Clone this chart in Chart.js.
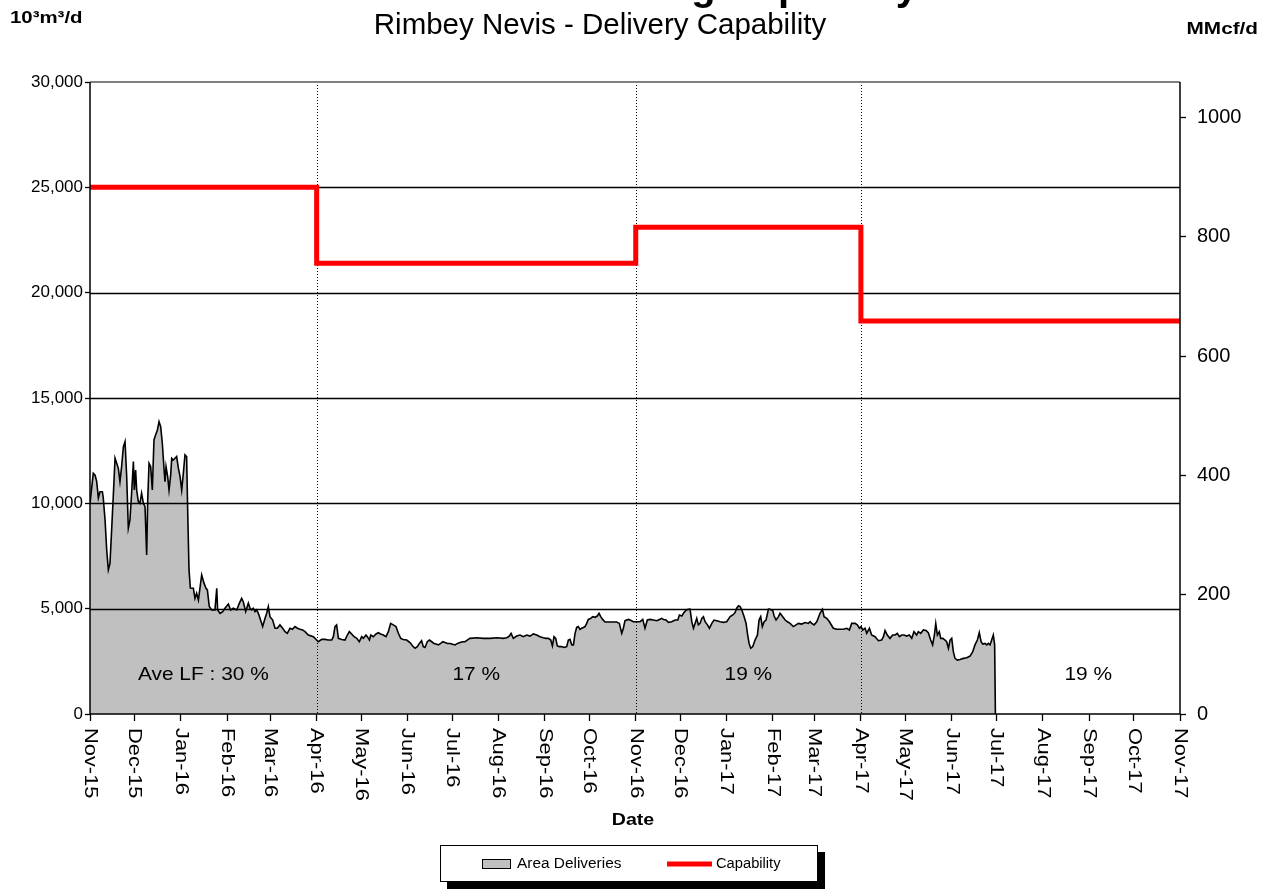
<!DOCTYPE html>
<html>
<head>
<meta charset="utf-8">
<title>Rimbey Nevis - Delivery Capability</title>
<script src="https://cdn.jsdelivr.net/npm/chart.js@4.4.1/dist/chart.umd.min.js"></script>
<style>
  html, body { margin: 0; padding: 0; background: #fff; }
  #wrap { width: 1273px; height: 889px; position: relative; }
</style>
</head>
<body>
<div id="wrap"><canvas id="chart" width="1273" height="889"></canvas></div>
<script>
// ====== DATA ======
const START = Date.UTC(2015, 10, 1);           // day 0 = 1-Nov-15
const MMCF_PER_E3M3 = 0.0353147;               // 10³m³/d -> MMcf/d

const monthLabels = ['Nov-15','Dec-15','Jan-16','Feb-16','Mar-16','Apr-16','May-16','Jun-16',
  'Jul-16','Aug-16','Sep-16','Oct-16','Nov-16','Dec-16','Jan-17','Feb-17','Mar-17','Apr-17',
  'May-17','Jun-17','Jul-17','Aug-17','Sep-17','Oct-17','Nov-17'];

// Capability (10³m³/d), stepped
const capDates  = ['2015-11-01','2016-04-01','2016-11-01','2017-04-01','2017-11-01'];
const capValues = [25000, 21400, 23100, 18650, 18650];

// Area deliveries: day since 1-Nov-15, 10³m³/d
const delDay = [0,2.2,3.4,4.5,5.6,6.7,8.3,8.9,10.1,11.2,12.3,13.4,14.5,15.6,16.8,17.9,19.0,20.1,21.2,22.4,
  23.5,24.6,25.7,26.8,27.9,29.1,29.7,30.6,31.3,32.4,33.5,34.6,35.8,36.9,38.0,38.7,39.6,40.7,41.8,42.9,
  44.0,45.2,46.3,47.4,48.5,49.6,50.3,51.0,52.1,53.0,54.1,54.8,55.9,57.0,58.1,59.3,60.4,61.5,62.6,63.7,
  64.8,65.5,66.4,67.3,69.3,70.4,71.5,72.7,74.9,76.5,77.8,78.7,80.0,81.6,83.8,85.0,85.6,87.2,89.0,90.5,
  92.8,94.3,96.1,98.4,100.2,101.7,102.8,104.4,106.2,107.3,108.4,109.5,110.7,111.8,112.9,114.0,115.8,117.4,118.5,119.6,
  120.7,122.5,124.1,125.6,127.4,129.2,130.8,132.3,134.1,135.7,137.5,139.1,140.8,142.6,144.2,146.4,149.8,152.0,153.1,155.4,
  157.6,159.8,162.1,163.2,164.3,165.4,166.6,168.8,171.0,172.6,173.9,175.5,177.1,178.9,180.6,182.2,183.3,185.1,186.0,187.4,
  188.3,190.0,191.8,193.4,194.9,196.7,198.5,200.1,201.6,203.4,205.2,206.8,208.4,210.1,212.4,214.6,216.4,218.0,219.5,220.9,
  222.4,223.5,224.7,226.2,227.6,229.2,230.7,232.1,233.6,235.2,236.6,238.1,239.7,241.5,243.2,244.8,246.4,248.2,249.9,251.5,
  253.0,254.8,259.3,263.8,268.3,272.8,277.2,279.5,281.2,282.4,283.9,286.2,288.4,290.6,292.9,295.1,297.3,299.6,301.8,304.0,
  305.8,307.4,309.0,310.1,311.2,312.3,313.4,314.8,316.3,317.9,319.7,320.8,321.9,323.1,324.2,325.3,326.4,327.5,328.6,329.7,
  330.9,332.0,333.1,334.2,335.8,337.1,338.7,340.2,341.4,342.5,343.8,345.4,348.7,353.2,355.0,356.6,357.7,358.8,361.1,362.2,
  364.4,366.7,368.9,370.7,372.2,373.8,375.6,377.8,380.1,381.9,383.4,384.6,386.3,387.9,390.1,392.4,394.2,395.3,396.9,398.0,
  399.8,401.3,402.4,403.6,404.7,405.8,406.9,408.0,409.1,410.3,411.4,412.5,414.1,415.4,417.0,418.5,420.3,422.6,424.8,427.0,
  429.3,431.1,432.6,433.7,434.9,436.0,437.1,438.7,440.0,440.9,442.0,443.1,444.5,446.0,447.6,448.7,449.8,450.9,452.1,453.4,
  455.0,456.1,457.9,458.8,460.1,461.7,462.8,464.6,466.2,467.7,469.5,471.7,473.5,475.1,477.3,479.6,481.8,482.9,484.0,485.6,
  487.4,489.6,491.2,492.3,494.1,495.9,498.5,500.8,503.0,505.2,507.5,509.3,510.8,513.1,514.6,516.0,517.1,518.2,519.8,520.9,
  522.7,524.2,526.5,528.7,530.9,532.1,533.2,534.7,536.5,538.3,539.9,541.4,542.8,544.4,545.9,547.7,549.5,551.1,552.6,554.4,
  555.5,557.1,558.9,560.7,562.2,563.8,565.1,566.3,567.2,568.3,569.6,570.5,571.9,573.4,574.5,575.7,576.8,577.9,579.0,580.1,
  581.7,583.5,585.7,588.0,590.2,592.0,593.5,595.1,596.4,597.6,598.7,600.2,601.4,602.5,603.6,604.7,605.8,606.7,607.2];
const delVal = [10000,11430,11340,11030,10250,10550,10550,10250,9210,7790,6840,7150,8730,10320,12140,11900,11660,11030,11740,12690,
  12930,11270,8820,9210,10480,11980,10630,11580,10630,10080,10000,10480,10000,9840,7550,10160,11900,11740,10630,13010,
  13240,13480,13880,13640,12850,11680,11030,11740,11270,10630,11340,12140,12060,12140,12220,11660,11270,10630,11430,12300,
  12220,9690,6840,5980,5970,5490,5730,5410,6600,6200,5970,5890,5100,4940,4940,5970,4940,4780,4860,5020,
  5220,4940,5020,4940,5260,5490,5330,4860,5260,5020,4940,5020,4860,4940,4780,4540,4150,4540,4780,5100,
  4620,4460,4070,4070,4230,4070,3910,3830,4070,4020,4150,4070,4020,3990,3910,3750,3670,3510,3430,3540,
  3540,3510,3510,3670,4150,4230,3590,3540,3510,3750,3910,3800,3670,3590,3430,3670,3590,3750,3670,3510,
  3750,3670,3800,3860,3800,3750,3670,3910,4300,4230,4150,3830,3590,3540,3510,3390,3230,3120,3200,3350,
  3480,3200,3160,3430,3510,3430,3350,3320,3280,3350,3430,3390,3350,3350,3310,3280,3350,3390,3430,3430,
  3510,3590,3620,3590,3590,3620,3590,3620,3700,3830,3590,3700,3750,3670,3750,3700,3800,3750,3670,3620,
  3590,3590,3510,3230,3670,3590,3230,3200,3200,3160,3200,3510,3540,3280,3280,3830,4110,4150,4020,4070,
  4110,4150,4300,4490,4540,4620,4590,4650,4780,4620,4490,4370,4370,4370,4300,3830,4070,4430,4490,4460,
  4380,4380,4380,4490,4070,4460,4490,4460,4430,4490,4540,4490,4460,4350,4380,4460,4460,4700,4650,4780,
  4940,4970,4980,4380,4070,4300,4540,4230,4300,4540,4620,4380,4230,4070,4300,4460,4430,4380,4350,4380,
  4620,4700,4810,5020,5140,5100,4940,4620,4300,3830,3350,3120,3200,3510,3750,4460,4620,4150,4380,4460,
  4980,4970,4910,4650,4460,4620,4780,4620,4460,4380,4300,4150,4230,4300,4270,4340,4300,4380,4300,4230,
  4380,4780,4970,4620,4540,4380,4070,4020,4020,4020,4070,3990,4300,4300,4230,4070,4150,3990,4070,3830,
  4070,3750,3670,3480,3510,3670,3960,3750,3590,3750,3750,3830,3670,3750,3750,3700,3750,3590,3910,3750,
  3910,3830,3990,3960,3860,3510,3280,3750,4300,3750,3910,3590,3590,3510,3430,3120,3510,3590,2960,2640,
  2560,2590,2640,2670,2750,2960,3280,3510,3860,3430,3320,3350,3280,3350,3280,3510,3750,3280,0];

// Load factor notes
const lfLabels = ['Ave LF : 30 %', '17 %', '19 %', '19 %'];
const lfFrom   = ['2015-11-01', '2016-04-01', '2016-11-01', '2017-07-01'];
const lfTo     = ['2016-04-01', '2016-11-01', '2017-04-01', '2017-11-01'];
const lfLevel  = 1850;

const dottedDates = ['2016-04-01', '2016-11-01', '2017-04-01'];
const gridValues  = [5000, 10000, 15000, 20000, 25000];

// ====== HELPERS ======
const FONT = '"Liberation Sans", Arial, Helvetica, sans-serif';
function dayOf(s) { return (Date.parse(s + 'T00:00:00Z') - START) / 864e5; }
const monthDays = monthLabels.map((_, i) => (Date.UTC(2015, 10 + i, 1) - START) / 864e5);

function txt(ctx, s, x, y, opt) {
  const o = Object.assign({ size: 18, weight: 'normal', align: 'left', base: 'alphabetic', sx: 1, rot: 0, color: '#000' }, opt);
  ctx.save();
  ctx.translate(x, y);
  if (o.rot) ctx.rotate(o.rot);
  ctx.scale(o.sx, 1);
  ctx.font = `${o.weight} ${o.size}px ${FONT}`;
  ctx.textAlign = o.align;
  ctx.textBaseline = o.base;
  ctx.fillStyle = o.color;
  ctx.fillText(s, 0, 0);
  ctx.restore();
}

// ====== PLUGINS ======
// grid goes above the grey area but under the red capability line
const gridOverArea = {
  id: 'gridOverArea',
  beforeDatasetDraw(chart, args) {
    if (args.index !== 0) return;
    const { ctx, chartArea: a, scales } = chart;
    ctx.save();
    ctx.strokeStyle = '#000';
    ctx.lineWidth = 1.3;
    gridValues.forEach(v => {
      const y = Math.round(scales.y.getPixelForValue(v)) + 0.5;
      ctx.beginPath(); ctx.moveTo(a.left, y); ctx.lineTo(a.right, y); ctx.stroke();
    });
    ctx.lineWidth = 1;
    ctx.setLineDash([1, 2]);
    dottedDates.forEach(d => {
      const x = Math.round(scales.x.getPixelForValue(dayOf(d))) + 0.5;
      ctx.beginPath(); ctx.moveTo(x, a.top); ctx.lineTo(x, a.bottom); ctx.stroke();
    });
    ctx.restore();
  }
};

const frame = {
  id: 'frame',
  afterDatasetsDraw(chart) {
    const { ctx, chartArea: a } = chart;
    ctx.save();
    ctx.strokeStyle = '#808080';
    ctx.lineWidth = 2;
    ctx.beginPath(); ctx.moveTo(a.left, a.top); ctx.lineTo(a.right, a.top); ctx.stroke();
    ctx.strokeStyle = '#000';
    ctx.lineWidth = 1.5;
    ctx.beginPath();
    ctx.moveTo(a.left, a.top); ctx.lineTo(a.left, a.bottom); ctx.lineTo(a.right, a.bottom); ctx.lineTo(a.right, a.top);
    ctx.stroke();
    ctx.restore();
  }
};

const texts = {
  id: 'texts',
  afterDraw(chart) {
    const { ctx, scales } = chart;
    const xs = scales.x, ys = scales.y;

    // month labels, rotated to read downward
    monthLabels.forEach((m, i) => {
      txt(ctx, m, xs.getPixelForValue(monthDays[i]), 728, { size: 19, base: 'middle', rot: Math.PI / 2, sx: 1.15 });
    });
    txt(ctx, 'Date', 633, 820, { size: 17, weight: 'bold', align: 'center', base: 'middle', sx: 1.15 });

    // load factor notes
    lfLabels.forEach((s, i) => {
      const x = xs.getPixelForValue((dayOf(lfFrom[i]) + dayOf(lfTo[i])) / 2);
      txt(ctx, s, x, ys.getPixelForValue(lfLevel), { size: 19, align: 'center', base: 'middle', sx: 1.1 });
    });

    // titles and units (main title sits mostly above the picture)
    txt(ctx, 'Existing Capability', 918, 0, { size: 40, weight: 'bold', align: 'right' });
    txt(ctx, 'Rimbey Nevis - Delivery Capability', 600, 34, { size: 29.5, align: 'center' });
    txt(ctx, '10³m³/d', 10, 18, { size: 17, weight: 'bold', base: 'middle', sx: 1.2 });
    txt(ctx, 'MMcf/d', 1258, 29, { size: 17, weight: 'bold', align: 'right', base: 'middle', sx: 1.22 });

    // legend box with drop shadow
    ctx.save();
    ctx.fillStyle = '#000';
    ctx.fillRect(447, 852, 378, 37);
    ctx.fillStyle = '#fff';
    ctx.fillRect(440, 845, 378, 37);
    ctx.strokeStyle = '#000';
    ctx.lineWidth = 1;
    ctx.strokeRect(440.5, 845.5, 377, 36);
    ctx.fillStyle = '#C0C0C0';
    ctx.fillRect(482, 859, 28, 9);
    ctx.strokeRect(482.5, 859.5, 28, 9);
    ctx.strokeStyle = '#FF0000';
    ctx.lineWidth = 5;
    ctx.beginPath(); ctx.moveTo(667, 864); ctx.lineTo(712, 864); ctx.stroke();
    ctx.restore();
    txt(ctx, 'Area Deliveries', 517, 864, { size: 14, base: 'middle', sx: 1.1 });
    txt(ctx, 'Capability', 716, 864, { size: 14, base: 'middle', sx: 1.05 });
  }
};

// ====== CHART ======
const capPoints = capDates.map((d, i) => ({ x: dayOf(d), y: capValues[i] }));
const delPoints = delDay.map((d, i) => ({ x: d, y: delVal[i] }));

new Chart(document.getElementById('chart').getContext('2d'), {
  type: 'line',
  data: {
    datasets: [
      {
        label: 'Capability',
        data: capPoints,
        borderColor: '#FF0000',
        borderWidth: 5,
        stepped: true,
        pointRadius: 0,
        fill: false,
        yAxisID: 'y'
      },
      {
        label: 'Area Deliveries',
        data: delPoints,
        borderColor: '#000',
        borderWidth: 1.6,
        backgroundColor: '#C0C0C0',
        pointRadius: 0,
        tension: 0,
        fill: 'origin',
        yAxisID: 'y'
      }
    ]
  },
  options: {
    responsive: false,
    devicePixelRatio: 1,
    animation: false,
    events: [],
    layout: { padding: { top: 82, left: 0, right: 0, bottom: 0 } },
    plugins: { legend: { display: false }, tooltip: { enabled: false } },
    scales: {
      x: {
        type: 'linear',
        min: 0,
        max: monthDays[monthDays.length - 1],
        afterBuildTicks: s => { s.ticks = monthDays.map(v => ({ value: v })); },
        afterFit: s => { s.height = 175; },
        ticks: { display: false },
        grid: { color: 'transparent', drawTicks: true, tickLength: 7, tickColor: '#000', tickWidth: 1.3 },
        border: { display: false }
      },
      y: {
        position: 'left',
        min: 0,
        max: 30000,
        afterFit: s => { s.width = 90; },
        ticks: {
          stepSize: 5000,
          padding: 2,
          color: '#000',
          font: { family: FONT, size: 17 },
          callback: v => v.toLocaleString('en-US')
        },
        grid: { color: 'transparent', tickLength: 5, tickColor: '#000', tickWidth: 1.3 },
        border: { display: false }
      },
      y1: {
        position: 'right',
        min: 0,
        max: 30000 * MMCF_PER_E3M3,
        afterFit: s => { s.width = 93; },
        ticks: {
          stepSize: 200,
          includeBounds: false,
          padding: 11,
          color: '#000',
          font: { family: FONT, size: 20 },
          callback: v => String(v)
        },
        grid: { drawOnChartArea: false, tickLength: 6, tickColor: '#000', tickWidth: 1.3 },
        border: { display: false }
      }
    }
  },
  plugins: [gridOverArea, frame, texts]
});
</script>
</body>
</html>
